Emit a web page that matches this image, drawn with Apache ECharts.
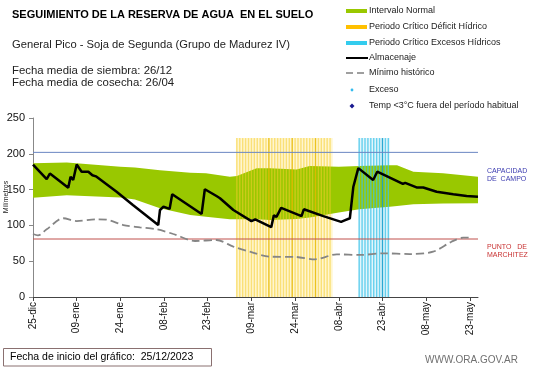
<!DOCTYPE html>
<html><head><meta charset="utf-8">
<script src="https://cdn.jsdelivr.net/npm/echarts@6/dist/echarts.min.js"></script>
<style>html,body{margin:0;padding:0;background:#fff}#c{width:541px;height:368px}</style>
</head><body><div id="c"></div>
<script>
// ---- data (days since 25/12/2023) ----
const tickDays = [0, 15, 30, 45, 60, 75, 90, 105, 120, 135, 150];
const tickLabels = ['25-dic', '09-ene', '24-ene', '08-feb', '23-feb', '09-mar', '24-mar', '08-abr', '23-abr', '08-may', '23-may'];
const dayRange = [0, 152.8];

const bandDays  = [0, 11.6, 30, 35, 43.6, 54, 59.4, 67.6, 70, 76.8, 81.4, 90.5, 95, 105, 112, 122.5, 125, 130.6, 140.8, 152.8];
const bandLower = [138.7, 142, 139, 136, 124, 114.5, 112, 108.5, 108.5, 108.5, 107.5, 109, 111, 118, 122.5, 126, 127, 129.5, 130.5, 131];
const bandUpper = [186.7, 188, 182, 181, 177, 173.6, 172.7, 168, 169, 179.7, 179.7, 178, 183, 182, 183, 184, 184, 175, 172.7, 168];

const almDays   = [0, 4.7, 5.8, 12.1, 12.9, 13.8, 15, 16.7, 19, 20.4, 21.6, 28.7, 34.3, 43, 43.6, 44.8, 46.9, 47.8, 57.9, 59, 63, 64.2, 68.8, 75, 76.3, 81.8, 82.7, 83.6, 85.2, 92.2, 93, 99.7, 105.8, 107, 108.8, 110, 111.7, 116.8, 118.2, 127, 127.8, 131.7, 134, 138.6, 144.3, 148.9, 152.8];
const almValues = [185, 164.5, 172.5, 152.5, 168, 163.5, 185, 175, 175, 170, 168.5, 147, 128.5, 100.5, 121.5, 126, 123, 143.5, 116, 150.5, 141, 138, 121.5, 106, 108.5, 97.5, 114, 112, 124.5, 113, 122.5, 113, 105, 107, 110, 154, 180, 163.5, 175, 158, 159.5, 153, 153, 147, 143.4, 141, 140];

const minDays   = [0, 1.7, 4.7, 10.4, 15, 21.9, 25.3, 31, 36.7, 42.5, 48.2, 55.6, 63, 68.8, 74.5, 81.4, 90, 96.8, 104.3, 112.3, 120.3, 129.4, 137.4, 143.7, 147.7, 151];
const minValues = [88, 86, 94.5, 110, 106, 108.5, 108, 100.5, 97.3, 94.5, 88, 78.2, 79.6, 70.3, 63.3, 56.3, 56, 52.6, 59.6, 58.7, 61, 60, 63.3, 77.2, 82.8, 82.8];

const deficitDays = [70, 71, 72, 73, 74, 75, 76, 77, 78, 79, 80, 81, 82, 83, 84, 85, 86, 87, 88, 89, 90, 91, 92, 93, 94, 95, 96, 97, 98, 99, 100, 101, 102];
const deficitStrong = [81, 89, 97];
const deficitSpan = [69.7, 102.9];
const excesoDays = [112, 113, 114, 115, 116, 117, 118, 119, 120, 121, 122];
const excesoStrong = [120];
const excesoSpan = [111.7, 122.6];
const periodTop = 222;
const capacidad = 202;
const marchitez = 81;

// ---- build ----
const zip = (a, b) => a.map((d, i) => [d, b[i]]);
const bandRows = bandDays.map((d, i) => [d, bandLower[i], bandUpper[i]]);
const barData = [];
deficitDays.forEach(d => barData.push({ value: [d, periodTop], itemStyle: { color: deficitStrong.includes(d) ? 'rgba(232,185,0,0.85)' : 'rgba(245,205,45,0.55)' } }));
excesoDays.forEach(d => barData.push({ value: [d, periodTop], itemStyle: { color: excesoStrong.includes(d) ? 'rgba(20,160,205,0.9)' : 'rgba(60,195,232,0.75)' } }));

const FONT = 'Liberation Sans, Arial, sans-serif';
const txt = (x, y, text, size, color, extra) => ({ type: 'text', x, y, style: Object.assign({ text, fontSize: size, fontFamily: FONT, fill: color, verticalAlign: 'middle' }, extra || {}) });
const legendRows = [11, 27, 43, 58, 73, 90, 106];
const legendNames = ['Intervalo Normal', 'Periodo Crítico Déficit Hídrico', 'Periodo Crítico Excesos Hídricos', 'Almacenaje', 'Mínimo histórico', 'Exceso', 'Temp <3°C fuera del período habitual'];

const graphics = [
  txt(12, 15, 'SEGUIMIENTO DE LA RESERVA DE AGUA  EN EL SUELO', 11, '#000', { fontWeight: 'bold' }),
  txt(12, 45, 'General Pico - Soja de Segunda (Grupo de Madurez IV)', 11.2, '#222'),
  txt(12, 71, 'Fecha media de siembra: 26/12', 11.4, '#222'),
  txt(12, 83, 'Fecha media de cosecha: 26/04', 11.4, '#222'),
  { type: 'rect', shape: { x: 346, y: legendRows[0] - 2, width: 21, height: 4 }, style: { fill: '#99c800' } },
  { type: 'rect', shape: { x: 346, y: legendRows[1] - 2, width: 21, height: 4 }, style: { fill: '#ffc000' } },
  { type: 'rect', shape: { x: 346, y: legendRows[2] - 2, width: 21, height: 4 }, style: { fill: '#33ccee' } },
  { type: 'line', shape: { x1: 346, y1: legendRows[3], x2: 368, y2: legendRows[3] }, style: { stroke: '#000', lineWidth: 2 } },
  { type: 'line', shape: { x1: 346, y1: legendRows[4], x2: 368, y2: legendRows[4] }, style: { stroke: '#808080', lineWidth: 1.5, lineDash: [7, 4] } },
  { type: 'circle', shape: { cx: 352, cy: legendRows[5], r: 1.4 }, style: { fill: '#33bbee' } },
  { type: 'polygon', shape: { points: [[352, legendRows[6] - 2.5], [354.5, legendRows[6]], [352, legendRows[6] + 2.5], [349.5, legendRows[6]]] }, style: { fill: '#1a1a90' } },
  txt(487, 171, 'CAPACIDAD', 7, '#3b3bb0'),
  txt(487, 179, 'DE  CAMPO', 7, '#3b3bb0'),
  txt(487, 247, 'PUNTO   DE', 7, '#c83232'),
  txt(487, 255, 'MARCHITEZ', 7, '#c83232'),
  { type: 'text', x: 6.5, y: 197, rotation: Math.PI / 2, style: { text: 'Milímetros', fontSize: 7, fontFamily: FONT, fill: '#222', align: 'center', verticalAlign: 'middle' } },
  { type: 'rect', shape: { x: 3.5, y: 348.5, width: 208, height: 17.5 }, style: { fill: '#fff', stroke: '#8a7070', lineWidth: 1 } },
  txt(10, 357, 'Fecha de inicio del gráfico:  25/12/2023', 10.5, '#000'),
  txt(425, 360, 'WWW.ORA.GOV.AR', 10, '#707070')
];
legendNames.forEach((n, i) => graphics.push(txt(369, legendRows[i], n, 9, '#222')));

const refLine = (name, value, color) => ({ name, type: 'line', data: dayRange.map(d => [d, value]), symbol: 'none', z: 3, silent: true,
  lineStyle: { color, width: 1, type: 'solid' }, itemStyle: { color } });

const chart = echarts.init(document.getElementById('c'), null, { renderer: 'canvas' });
chart.setOption({
  animation: false,
  backgroundColor: '#fff',
  grid: { left: 33, right: 63, top: 118, bottom: 71 },
  xAxis: {
    type: 'value', min: dayRange[0], max: dayRange[1],
    axisLine: { show: true, lineStyle: { color: '#444', width: 1 } },
    axisTick: { show: true, length: 4, lineStyle: { color: '#444' }, customValues: tickDays },
    axisLabel: { customValues: tickDays, rotate: 90, fontSize: 10, fontFamily: FONT, color: '#111', margin: 5,
      formatter: v => { const i = tickDays.indexOf(v); return i >= 0 ? tickLabels[i] : ''; } },
    splitLine: { show: false }
  },
  yAxis: {
    type: 'value', min: 0, max: 250, interval: 50,
    axisLine: { show: true, lineStyle: { color: '#888', width: 1 } },
    axisTick: { show: true, length: 4, lineStyle: { color: '#888' } },
    axisLabel: { fontSize: 11, fontFamily: FONT, color: '#111', margin: 8 },
    splitLine: { show: false }
  },
  series: [
    { type: 'line', data: [], z: 0, silent: true,
      markArea: { silent: true, data: [
        [{ xAxis: deficitSpan[0], yAxis: 0, itemStyle: { color: 'rgba(255,238,170,0.55)' } }, { xAxis: deficitSpan[1], yAxis: periodTop }],
        [{ xAxis: excesoSpan[0], yAxis: 0, itemStyle: { color: 'rgba(200,238,250,0.5)' } }, { xAxis: excesoSpan[1], yAxis: periodTop }]
      ] } },
    { name: 'Intervalo Normal', type: 'custom', data: bandRows, z: 1, silent: true,
      encode: { x: 0, y: [1, 2] },
      renderItem: (params, api) => {
        if (params.dataIndex !== 0) return null;
        const up = bandRows.map(r => api.coord([r[0], r[2]]));
        const lo = bandRows.map(r => api.coord([r[0], r[1]])).reverse();
        return { type: 'polygon', shape: { points: up.concat(lo) }, style: { fill: '#99c800' } };
      } },
    { name: 'Periodos', type: 'bar', data: barData, barWidth: 1.4, z: 2, silent: true },
    refLine('Capacidad de campo', capacidad, '#6a86c2'),
    refLine('Punto de marchitez', marchitez, '#c0504d'),
    { name: 'Mínimo histórico', type: 'line', data: zip(minDays, minValues), symbol: 'none', smooth: 0.3, lineStyle: { color: '#858585', width: 1.8, type: [8, 4] }, z: 4 },
    { name: 'Almacenaje', type: 'line', data: zip(almDays, almValues), symbol: 'none', lineStyle: { color: '#000', width: 2.5 }, z: 5 }
  ],
  graphic: graphics
});
</script></body></html>
